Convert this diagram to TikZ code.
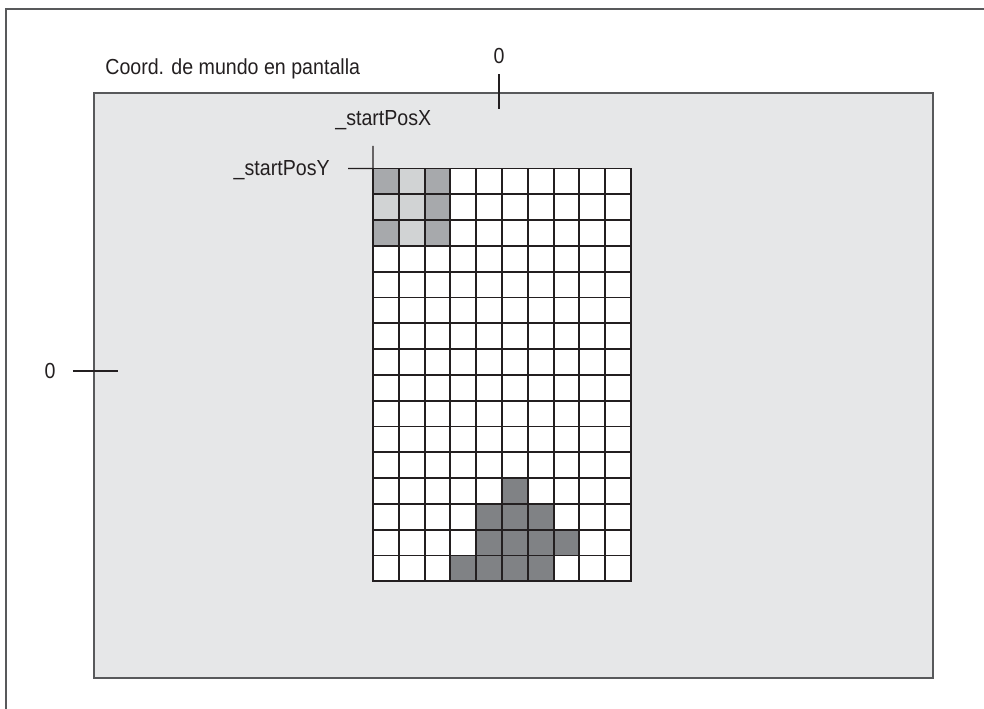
\documentclass[tikz,border=0pt]{standalone}
\usepackage{fontspec}
\setmainfont{Liberation Sans}[FakeStretch=0.9]
\usetikzlibrary{positioning}
\definecolor{screenfill}{HTML}{E6E7E8}
\definecolor{framegray}{HTML}{58595B}
\definecolor{gridline}{HTML}{231F20}
\definecolor{piecedark}{HTML}{A7A9AC}
\definecolor{piecelight}{HTML}{D1D3D4}
\definecolor{stackgray}{HTML}{808285}

\begin{document}
\begin{tikzpicture}[
						x=0.02cm, y=-0.02cm,
						screen/.style={rectangle, draw=framegray, line width=1.1pt, fill=screenfill, inner sep=0pt, minimum width=16.78cm, minimum height=11.7cm},
						cell/.style={rectangle, draw=gridline, line width=1.1pt, fill=white, minimum width=0.516cm, minimum height=0.516cm, inner sep=0pt, outer sep=0pt},
						txtlabel/.style={font=\fontsize{12.4}{14}\selectfont, text=gridline, inner sep=0pt},
						tick/.style={draw=gridline, line width=0.8pt}
						]
						\useasboundingbox (0,0) rectangle (984,709);
						
						% page frame
						\draw [framegray, line width=0.9pt] (6,709) -- (6,9) -- (984,9);
						
						\node [screen, anchor=north west] (screen) at (93,92) {};
						\node [txtlabel, anchor=base west] (title) at (105,75) {Coord. de mundo en pantalla};
						
						% board
						\foreach \r in {0,...,15}
							\foreach \c in {0,...,9}
								\node [cell] (c-\r-\c) at ({385.9+25.8*\c},{181.4+25.8*\r}) {};
						
						% falling piece
						\foreach \r/\c in {0/0, 0/2, 1/2, 2/0, 2/2}
							\node [cell, fill=piecedark] (p-\r-\c) at (c-\r-\c) {};
						\foreach \r/\c in {0/1, 1/0, 1/1, 2/1}
							\node [cell, fill=piecelight] (p-\r-\c) at (c-\r-\c) {};
						
						% stacked blocks
						\foreach \r/\c in {12/5, 13/4, 13/5, 13/6, 14/4, 14/5, 14/6, 14/7, 15/3, 15/4, 15/5, 15/6}
							\node [cell, fill=stackgray] (s-\r-\c) at (c-\r-\c) {};
						
						% origin marks
						\node [txtlabel] (zerox) at (499,56) {0};
						\coordinate (zeroxend) at (499,109);
						\draw [tick, shorten <=0.2cm] (zerox.south) -- (zeroxend);
						
						\node [txtlabel] (zeroy) at (50,371) {0};
						\coordinate (zeroyend) at (118,371);
						\draw [tick, shorten <=0.34cm] (zeroy.east) -- (zeroyend);
						
						\node [txtlabel, anchor=base west] (startposx) at (335,126) {\_startPosX};
						\coordinate (posxtop) at (373,146);
						\draw [tick] (posxtop) -- (c-0-0.north west);
						
						\node [txtlabel, anchor=base east] (startposy) at (330,176) {\_startPosY};
						\coordinate (posyleft) at (348,168.5);
						\draw [tick] (posyleft) -- (c-0-0.north west);
					\end{tikzpicture}
\end{document}
